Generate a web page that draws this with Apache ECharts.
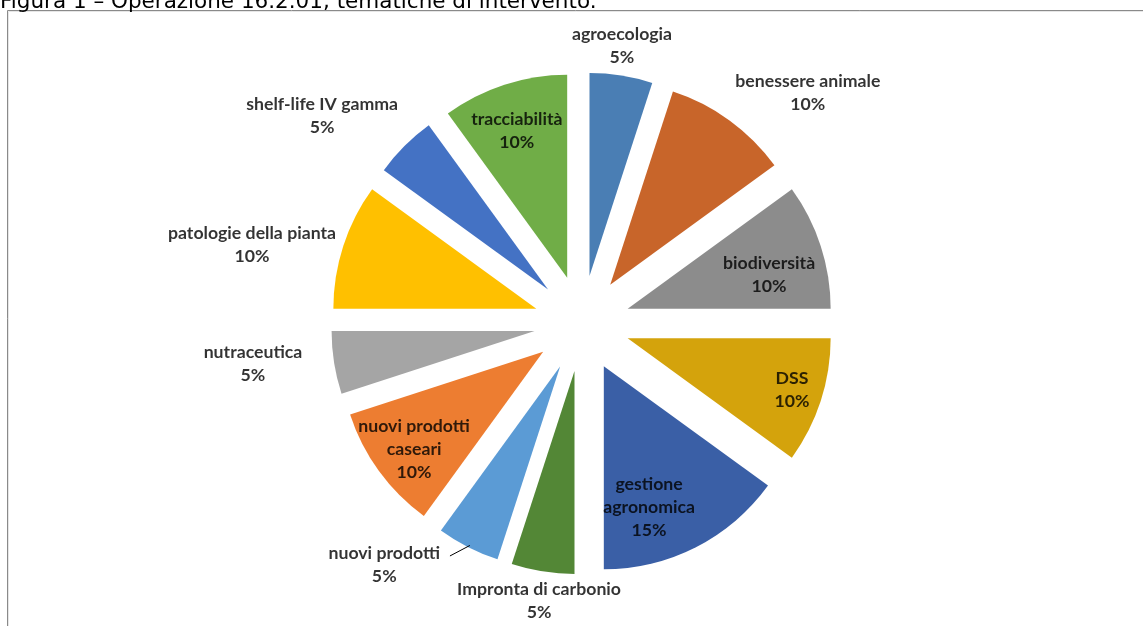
<!DOCTYPE html>
<html>
<head>
<meta charset="utf-8">
<script src="https://cdn.jsdelivr.net/npm/echarts@6/dist/echarts.min.js"></script>
<style>
  html, body { margin: 0; padding: 0; background: #ffffff; }
  #chart { width: 1143px; height: 626px; }
</style>
</head>
<body>
<div id="chart"></div>
<script>
// ---- data ----
const titleText = 'Figura 1 \u2013 Operazione 16.2.01, tematiche di intervento.';
const categories = ['agroecologia', 'benessere animale', 'biodiversità', 'DSS', 'gestione agronomica',
  'Impronta di carbonio', 'nuovi prodotti', 'nuovi prodotti caseari', 'nutraceutica',
  'patologie della pianta', 'shelf-life IV gamma', 'tracciabilità'];
const values = [5, 10, 10, 10, 15, 5, 5, 10, 5, 10, 5, 10];
const labelNames = ['agroecologia', 'benessere animale', 'biodiversità', 'DSS', 'gestione\nagronomica',
  'Impronta di carbonio', 'nuovi prodotti', 'nuovi prodotti\ncaseari', 'nutraceutica',
  'patologie della pianta', 'shelf-life IV gamma', 'tracciabilità'];

// ---- style ----
const colors = ['#4a7eb4', '#c8652a', '#8c8c8c', '#d4a30c', '#3a5fa6', '#538736',
  '#5b9bd5', '#ed7d31', '#a5a5a5', '#ffc000', '#4472c4', '#70ad47'];
// label placement: [angle shift from slice bisector (deg), distance / pie radius]
const labelPlace = [[0.8, 1.381], [-8.4, 1.590], [-3.5, 0.952], [0.4, 1.085], [-6.9, 0.962],
  [0.2, 1.383], [-12.3, 1.538], [0.8, 1.033], [-2, 1.633], [4.6, 1.671], [6.4, 1.638], [0.7, 1.001]];
// leader line for 'nuovi prodotti': [angle shift, distance / pie radius] for both ends
const leaderIndex = 6;
const leaderEnds = [[-2.6, 1.317], [0.2, 1.225]];
const CX = 582, CY = 323.5, R = 203, OFFSET = 48;

const total = values.reduce((a, b) => a + b, 0);
// bisector of slice i, in degrees clockwise from 12 o'clock
function bisectorCW(i) {
  let cum = 0;
  for (let k = 0; k < i; k++) cum += values[k];
  return 360 * (cum + values[i] / 2) / total;
}
function norm(a) { return ((a % 360) + 360) % 360; }

const labelData = categories.map((c, i) => ({
  name: c,
  value: [labelPlace[i][1], norm(bisectorCW(i) - labelPlace[i][0])],
  label: { formatter: labelNames[i] + '\n' + values[i] + '%' }
}));
const leaderData = leaderEnds.map(e => [e[1], norm(bisectorCW(leaderIndex) - e[0])]);

const chart = echarts.init(document.getElementById('chart'), null, { renderer: 'canvas' });
const option = {
  animation: false,
  graphic: [
    {
      type: 'rect',
      shape: { x: 7.5, y: 10.5, width: 1200, height: 700 },
      style: { fill: 'none', stroke: '#8a8a8a', lineWidth: 1 },
      silent: true
    },
    {
      type: 'rect',
      shape: { x: 8.5, y: 11.5, width: 1200, height: 700 },
      style: { fill: 'none', stroke: '#e6e6e6', lineWidth: 1 },
      silent: true
    },
    {
      type: 'text',
      left: 0,
      top: -9,
      style: {
        text: titleText,
        fontFamily: 'DejaVu Sans',
        fontSize: 21.5,
        fill: '#000000'
      },
      silent: true
    }
  ],
  polar: { center: [CX, CY], radius: 2 * R },
  angleAxis: { type: 'value', min: 0, max: 360, startAngle: 90, clockwise: true, show: false },
  radiusAxis: { type: 'value', min: 0, max: 2, show: false },
  series: [
    {
      type: 'pie',
      center: [CX, CY],
      radius: R,
      startAngle: 90,
      clockwise: true,
      selectedMode: 'multiple',
      selectedOffset: OFFSET,
      silent: true,
      label: { show: false },
      labelLine: { show: false },
      itemStyle: { borderWidth: 0 },
      data: categories.map((c, i) => ({
        name: c,
        value: values[i],
        selected: true,
        itemStyle: { color: colors[i] },
        select: { itemStyle: { color: colors[i] } }
      }))
    },
    {
      type: 'scatter',
      coordinateSystem: 'polar',
      symbolSize: 1,
      clip: false,
      itemStyle: { color: 'rgba(0,0,0,0)' },
      silent: true,
      z: 5,
      label: {
        show: true,
        position: 'inside',
        align: 'center',
        verticalAlign: 'middle',
        fontFamily: 'Lato',
        fontWeight: 'bold',
        fontSize: 17.7,
        lineHeight: 23,
        color: '#000000'
      },
      data: labelData
    },
    {
      type: 'line',
      coordinateSystem: 'polar',
      showSymbol: false,
      clip: false,
      silent: true,
      z: 5,
      lineStyle: { color: '#000000', width: 1 },
      data: leaderData
    }
  ]
};
chart.setOption(option);
</script>
</body>
</html>
